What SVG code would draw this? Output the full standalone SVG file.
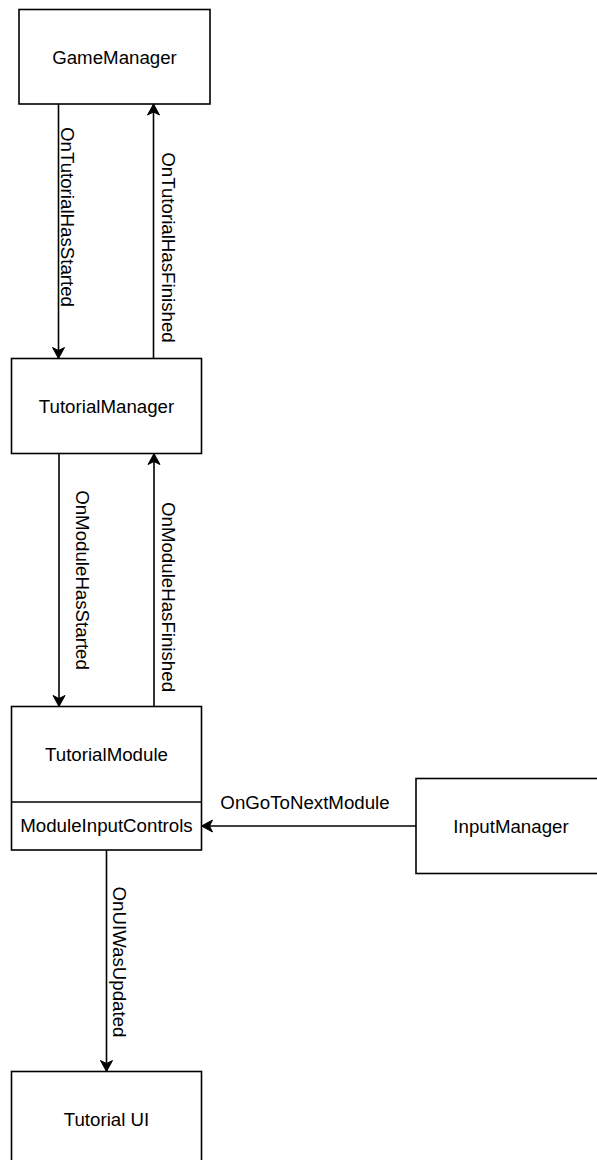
<svg xmlns="http://www.w3.org/2000/svg" width="597" height="1160" viewBox="0 0 597 1160">
  <style>
    .box { fill: #ffffff; stroke: #000000; stroke-width: 1.6; }
    .lbl { font-family: "Liberation Sans", Arial, sans-serif; font-size: 18.7px; fill: #000000; text-anchor: middle; }
    .edge { fill: none; stroke: #000000; stroke-width: 1.6; marker-end: url(#arrow); }
  </style>
  <defs>
    <marker id="arrow" markerUnits="userSpaceOnUse" markerWidth="14" markerHeight="14" viewBox="-12 -7 13 14" refX="0" refY="0" orient="auto">
      <path d="M-11,-6 L0,0 L-11,6 L-8,0 Z" fill="#000000" stroke="#000000" stroke-width="1"/>
    </marker>
  </defs>
  <rect width="597" height="1160" fill="#ffffff"/>

  <g id="connectors">
    <path class="edge" d="M58.5,104 L58.5,358.5"/>
    <path class="edge" d="M153.5,358.5 L153.5,104"/>
    <path class="edge" d="M59,453.5 L59,706.5"/>
    <path class="edge" d="M154,706.5 L154,453.5"/>
    <path class="edge" d="M416,826 L201.5,826"/>
    <path class="edge" d="M106.5,850 L106.5,1071.5"/>
    <text class="lbl" transform="translate(60.5,217) rotate(90)">OnTutorialHasStarted</text>
    <text class="lbl" transform="translate(162,247.5) rotate(90)">OnTutorialHasFinished</text>
    <text class="lbl" transform="translate(75.5,580) rotate(90)">OnModuleHasStarted</text>
    <text class="lbl" transform="translate(162,597) rotate(90)">OnModuleHasFinished</text>
    <text class="lbl" transform="translate(113,962) rotate(90)">OnUIWasUpdated</text>
    <text class="lbl" x="305" y="809">OnGoToNextModule</text>
  </g>

  <g id="GameManager">
    <rect class="box" x="19" y="9.5" width="191" height="94.5"/>
    <text class="lbl" x="114.5" y="63.5">GameManager</text>
  </g>

  <g id="TutorialManager">
    <rect class="box" x="11.5" y="358.5" width="190" height="95"/>
    <text class="lbl" x="106.5" y="412.5">TutorialManager</text>
  </g>

  <g id="TutorialModule">
    <rect class="box" x="11.5" y="706.5" width="190" height="143.5"/>
    <line x1="11.5" y1="802" x2="201.5" y2="802" stroke="#000000" stroke-width="1.6"/>
    <text class="lbl" x="106.5" y="761">TutorialModule</text>
    <text class="lbl" x="106.5" y="832">ModuleInputControls</text>
  </g>

  <g id="InputManager">
    <rect class="box" x="416" y="778.5" width="190" height="95"/>
    <text class="lbl" x="511" y="832.5">InputManager</text>
  </g>

  <g id="TutorialUI">
    <rect class="box" x="11.5" y="1071.5" width="190" height="95"/>
    <text class="lbl" x="106.5" y="1125.5">Tutorial UI</text>
  </g>
</svg>
